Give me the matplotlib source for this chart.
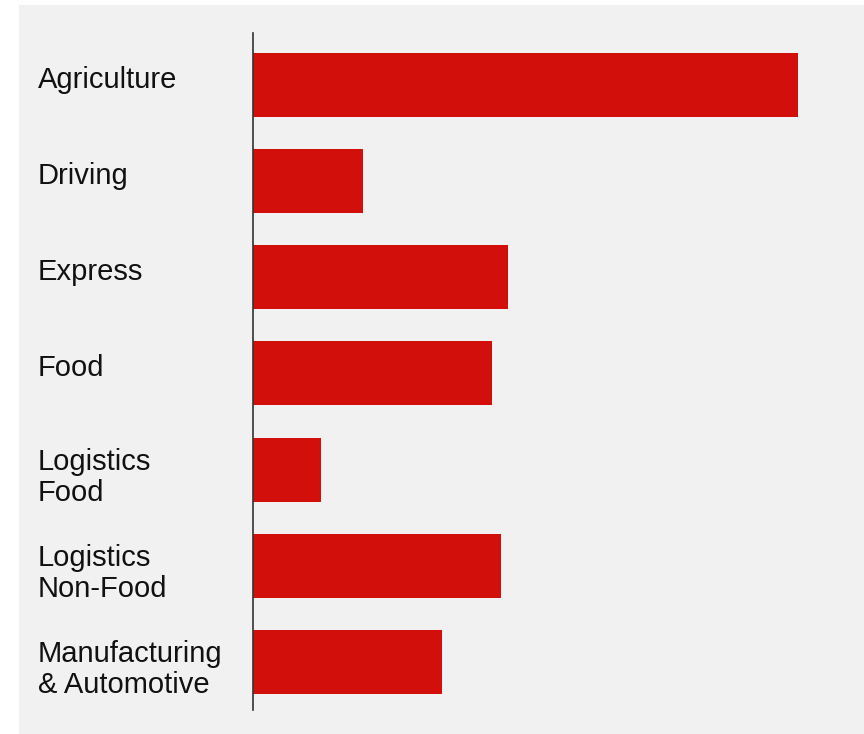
import matplotlib.pyplot as plt
from matplotlib.patches import Rectangle
from matplotlib import transforms

categories = ["Agriculture", "Driving", "Express", "Food",
              "Logistics\nFood", "Logistics\nNon-Food", "Manufacturing\n& Automotive"]
values = [100, 20.2, 46.8, 43.9, 12.5, 45.5, 34.7]

W, H = 864, 734
fig = plt.figure(figsize=(W / 100, H / 100), dpi=100)
fig.patch.set_facecolor("white")

# light grey panel behind everything
fig.patches.append(Rectangle((19 / W, 0), 1 - 19 / W, 1 - 5 / H,
                             transform=fig.transFigure, facecolor="#f1f1f1",
                             edgecolor="none", zorder=-1))

ax = fig.add_axes([253 / W, 24 / H, (863 - 253) / W, (710 - 33) / H])
ax.patch.set_alpha(0)

y = list(range(len(categories)))
ax.barh(y, values, height=0.665, color="#d20f0a")

ax.set_xlim(0, 112)
ax.set_ylim(6.5, -0.54)
for side in ["top", "right", "bottom"]:
    ax.spines[side].set_visible(False)
ax.spines["left"].set_color("#333333")
ax.spines["left"].set_linewidth(1.2)
ax.set_xticks([])
ax.set_yticks([])

base = transforms.blended_transform_factory(fig.transFigure, ax.transData)
for yi, lab in zip(y, categories):
    # baseline (of last line) offset below bar centre, in pixels
    dy = -3 if "\n" not in lab else -31
    trans = base + transforms.ScaledTranslation(0, dy / 100, fig.dpi_scale_trans)
    fig.text(38 / W, yi, lab, transform=trans, ha="left", va="baseline",
             fontsize=21, family="Liberation Sans", color="#111111",
             linespacing=1.14)

fig.savefig("out.png", dpi=100)
